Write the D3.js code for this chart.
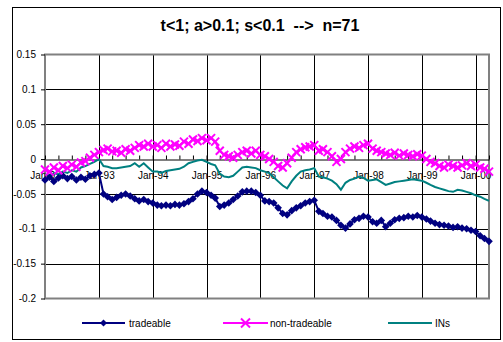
<!DOCTYPE html>
<html><head><meta charset="utf-8">
<script src="https://cdn.jsdelivr.net/npm/d3@7"></script>
<style>
body{margin:0;background:#fff;}
text{font-family:Arial,"Liberation Sans",sans-serif;}
</style></head>
<body><svg id="c" width="503" height="342"></svg>
<script>
const titleText = "t<1; a>0.1; s<0.1\u00a0\u00a0-->\u00a0\u00a0n=71";
const seriesNames = ["tradeable","non-tradeable","INs"];
const yTicks = [0.15,0.1,0.05,0,-0.05,-0.1,-0.15,-0.2];
const yTickLabels = ["0.15","0.1","0.05","0","-0.05","-0.1","-0.15","-0.2"];
const xTickLabels = ["Jan-92","Jan-93","Jan-94","Jan-95","Jan-96","Jan-97","Jan-98","Jan-99","Jan-00"];
const startMonth = new Date(1992,0,1);
const endMonth = new Date(2000,3,1);

const tradeable = [
 -0.030,-0.026,-0.032,-0.027,-0.024,-0.028,-0.025,-0.030,-0.026,-0.029,-0.024,-0.022,
 -0.020,-0.050,-0.054,-0.058,-0.055,-0.052,-0.050,-0.053,-0.057,-0.060,-0.058,-0.061,
 -0.063,-0.066,-0.067,-0.066,-0.067,-0.065,-0.066,-0.064,-0.061,-0.057,-0.050,-0.046,
 -0.048,-0.052,-0.056,-0.068,-0.066,-0.063,-0.058,-0.053,-0.047,-0.046,-0.046,-0.048,
 -0.052,-0.060,-0.061,-0.063,-0.070,-0.078,-0.080,-0.074,-0.070,-0.067,-0.063,-0.061,
 -0.059,-0.075,-0.078,-0.082,-0.083,-0.088,-0.095,-0.099,-0.093,-0.087,-0.085,-0.082,
 -0.083,-0.090,-0.092,-0.088,-0.097,-0.092,-0.087,-0.085,-0.084,-0.082,-0.083,-0.081,
 -0.083,-0.086,-0.089,-0.092,-0.094,-0.095,-0.096,-0.098,-0.097,-0.099,-0.100,-0.102,
 -0.104,-0.110,-0.114,-0.118];
const nonTradeable = [
 -0.015,-0.018,-0.012,-0.016,-0.010,-0.013,-0.008,-0.011,-0.005,-0.003,0.002,0.006,
 0.010,0.013,0.015,0.011,0.012,0.009,0.014,0.012,0.016,0.020,0.018,0.022,
 0.018,0.020,0.016,0.022,0.018,0.021,0.019,0.025,0.022,0.028,0.026,0.030,
 0.027,0.030,0.025,0.012,0.006,0.004,0.002,0.006,0.010,0.012,0.008,0.012,
 0.006,0.004,0.000,-0.004,-0.010,-0.012,-0.006,0.002,0.010,0.014,0.017,0.018,
 0.020,0.012,0.014,0.010,0.004,-0.004,0.000,0.010,0.015,0.018,0.016,0.020,
 0.022,0.015,0.012,0.010,0.008,0.006,0.009,0.005,0.008,0.006,0.004,0.007,
 0.005,0.000,-0.004,-0.006,-0.010,-0.012,-0.008,-0.010,-0.012,-0.009,-0.006,-0.010,
 -0.008,-0.012,-0.014,-0.018];
const ins = [
 -0.022,-0.024,-0.020,-0.022,-0.018,-0.020,-0.016,-0.018,-0.012,-0.010,-0.007,-0.004,
 0.000,-0.010,-0.011,-0.013,-0.013,-0.012,-0.011,-0.010,-0.006,-0.011,-0.006,-0.012,
 -0.018,-0.018,-0.020,-0.017,-0.016,-0.015,-0.014,-0.011,-0.006,-0.004,-0.002,-0.001,
 -0.004,-0.007,-0.009,-0.021,-0.025,-0.026,-0.024,-0.018,-0.012,-0.011,-0.012,-0.013,
 -0.016,-0.018,-0.020,-0.026,-0.032,-0.038,-0.042,-0.032,-0.024,-0.018,-0.016,-0.015,
 -0.013,-0.025,-0.026,-0.028,-0.031,-0.036,-0.044,-0.034,-0.030,-0.028,-0.025,-0.027,
 -0.031,-0.030,-0.029,-0.033,-0.037,-0.035,-0.033,-0.032,-0.031,-0.030,-0.029,-0.030,
 -0.031,-0.034,-0.037,-0.040,-0.042,-0.044,-0.046,-0.047,-0.044,-0.045,-0.047,-0.049,
 -0.052,-0.054,-0.057,-0.060];

const months = d3.timeMonth.range(startMonth, d3.timeMonth.offset(startMonth, tradeable.length));
const svg = d3.select("#c");
const L=45, R=489, T=54.5, B=298.5;
const x = d3.scaleTime().domain([startMonth, endMonth]).range([L, R]);
const y = d3.scaleLinear().domain([-0.2, 0.15]).range([B, T]);

// outer frame
svg.append("rect").attr("x",12.5).attr("y",7.5).attr("width",488).attr("height",332)
  .attr("fill","#fff").attr("stroke","#000").attr("stroke-width",1);

svg.append("text").attr("x",260).attr("y",31).attr("text-anchor","middle")
  .attr("font-size",16).attr("font-weight","bold").text(titleText);

// gridlines
const g = svg.append("g");
g.selectAll("line.h").data(yTicks.filter(v=>v<0.15 && v>-0.2 && v!==0)).join("line")
  .attr("x1",L).attr("x2",R).attr("y1",d=>Math.round(y(d))+0.5).attr("y2",d=>Math.round(y(d))+0.5)
  .attr("stroke","#000").attr("stroke-width",1);
const yearTicks = d3.timeYear.range(new Date(1993,0,1), new Date(2000,1,1));
g.selectAll("line.v").data(yearTicks).join("line")
  .attr("x1",d=>Math.round(x(d))+0.5).attr("x2",d=>Math.round(x(d))+0.5).attr("y1",T).attr("y2",B)
  .attr("stroke","#000").attr("stroke-width",1);

// plot border
svg.append("rect").attr("x",L).attr("y",T).attr("width",R-L).attr("height",B-T)
  .attr("fill","none").attr("stroke","#808080").attr("stroke-width",2);

// y axis
const yAxis = d3.axisLeft(y).tickValues(yTicks).tickSize(4).tickPadding(5)
  .tickFormat((d,i)=>yTickLabels[i]);
const ya = svg.append("g").attr("transform",`translate(${L},0)`).call(yAxis);
ya.select(".domain").remove();
ya.selectAll("line").attr("stroke","#000");
ya.selectAll("text").attr("font-size",10).attr("font-family","Arial,'Liberation Sans',sans-serif").attr("fill","#000");

// x axis at 0
const y0 = Math.round(y(0))+0.5;
const quarterTicks = d3.timeMonth.every(3).range(startMonth, endMonth);
quarterTicks.push(endMonth);
const xa1 = svg.append("g").attr("transform",`translate(0,${y0})`)
  .call(d3.axisBottom(x).tickValues(quarterTicks).tickSizeInner(-4).tickSizeOuter(0).tickFormat(""));
xa1.select(".domain").attr("stroke","#000");
xa1.selectAll("line").attr("stroke","#000");
const labelDates = d3.timeYear.range(new Date(1992,0,1), new Date(2000,1,1));
const xa2 = svg.append("g").attr("transform",`translate(0,${y0})`)
  .call(d3.axisBottom(x).tickValues(labelDates).tickSize(0).tickPadding(12).tickFormat((d,i)=>xTickLabels[i]));
xa2.select(".domain").remove();
xa2.selectAll("text").attr("font-size",10).attr("font-family","Arial,'Liberation Sans',sans-serif").attr("fill","#000");

const line = d3.line().x((d,i)=>x(months[i])).y(d=>y(d));
const diamond = s => `M0,${-s}L${s},0L0,${s}L${-s},0Z`;
const cross = s => `M${-s},${-s}L${s},${s}M${-s},${s}L${s},${-s}`;

// INs
svg.append("path").datum(ins).attr("d",line).attr("fill","none").attr("stroke","#008080").attr("stroke-width",2);
// tradeable
svg.append("path").datum(tradeable).attr("d",line).attr("fill","none").attr("stroke","#000080").attr("stroke-width",2);
svg.append("g").selectAll("path").data(tradeable).join("path")
  .attr("transform",(d,i)=>`translate(${x(months[i])},${y(d)})`).attr("d",diamond(3.8)).attr("fill","#000080");
// non-tradeable
svg.append("path").datum(nonTradeable).attr("d",line).attr("fill","none").attr("stroke","#FF00FF").attr("stroke-width",2);
svg.append("g").selectAll("path").data(nonTradeable).join("path")
  .attr("transform",(d,i)=>`translate(${x(months[i])},${y(d)})`).attr("d",cross(4))
  .attr("fill","none").attr("stroke","#FF00FF").attr("stroke-width",2);

// legend
const lg = svg.append("g");
const ly = 323;
const legendX = [[82,125,129],[223,268,270],[388,432,435]];
const legendColors = ["#000080","#FF00FF","#008080"];
seriesNames.forEach((n,i)=>{
  const [a,b,t] = legendX[i];
  lg.append("line").attr("x1",a).attr("x2",b).attr("y1",ly).attr("y2",ly).attr("stroke",legendColors[i]).attr("stroke-width",2);
  if(i===0) lg.append("path").attr("transform",`translate(${(a+b)/2},${ly})`).attr("d",diamond(3.5)).attr("fill",legendColors[i]);
  if(i===1) lg.append("path").attr("transform",`translate(${(a+b)/2},${ly})`).attr("d",cross(4.5)).attr("fill","none").attr("stroke",legendColors[i]).attr("stroke-width",2);
  lg.append("text").attr("x",t).attr("y",ly+3.5).attr("font-size",10).attr("fill","#000").text(n);
});
</script></body></html>
